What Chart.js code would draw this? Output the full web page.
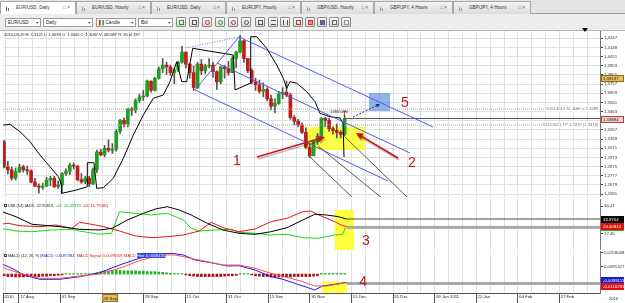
<!DOCTYPE html>
<html><head><meta charset="utf-8">
<script src="https://cdn.jsdelivr.net/npm/chart.js@4.4.1/dist/chart.umd.min.js"></script>
<style>
*{box-sizing:border-box}
body{margin:0;width:625px;height:303px;overflow:hidden;position:relative;background:#fff;font-family:'Liberation Sans',Arial,sans-serif;color:#222}
.abs{position:absolute}
#tabs{left:0;top:0;width:625px;height:14px;background:#e4e4e4;border-bottom:1px solid #a0a0a0}
.tab{position:absolute;top:1px;height:13px;border:1px solid #a8a8a8;border-bottom:none;background:linear-gradient(#f4f4f4,#dcdcdc);font-size:4.6px;line-height:12px;white-space:nowrap;color:#333}
.tab.on{background:#fff;height:14px}
.tab .ic{position:absolute;left:5px;top:4px;width:4px;height:5px}
.tab .ic b{position:absolute;bottom:0;width:1px}
.tab .tt{position:absolute;left:15px}
.tab .tx{position:absolute;right:5px;color:#666}
#tb{left:0;top:14px;width:625px;height:17px;background:#ededed;border-bottom:1px solid #b4b4b4}
.dd{position:absolute;top:4px;height:9px;border:1px solid #9c9c9c;background:#fff;font-size:4.6px;line-height:8px;padding-left:2px;white-space:nowrap}
.dd .ar{position:absolute;right:1px;top:0;font-size:3.5px;color:#333}
.bt{position:absolute;top:3px;width:10px;height:10px;border:1px solid #8c8c8c;border-radius:1px;background:linear-gradient(#fbfbfb,#d8d8d8)}
.bt i{position:absolute;left:2px;top:2px;width:5px;height:5px;border:1px solid #555}
.hd{position:absolute;font-size:4px;white-space:nowrap;line-height:5px}
.cb{display:inline-block;width:3px;height:3px;border:0.5px solid #444;margin-right:1px}
canvas{position:absolute;left:0}
</style></head>
<body>
<div id="tabs" class="abs">
  <div class="tab on" style="left:0;width:76px"><span class="ic"><b style="left:0;height:4px;background:#c22"></b><b style="left:2px;height:3px;background:#2a2"></b></span><span class="tt">EUR/USD, Daily</span><span class="tx">□ ×</span></div>
  <div class="tab" style="left:76px;width:75px"><span class="ic"><b style="left:0;height:4px;background:#999"></b><b style="left:2px;height:3px;background:#999"></b></span><span class="tt">EUR/USD, Hourly</span><span class="tx">□ ×</span></div>
  <div class="tab" style="left:151px;width:75px"><span class="ic"><b style="left:0;height:4px;background:#999"></b><b style="left:2px;height:3px;background:#999"></b></span><span class="tt">EUR/USD, Daily</span><span class="tx">□ ×</span></div>
  <div class="tab" style="left:226px;width:75px"><span class="ic"><b style="left:0;height:4px;background:#999"></b><b style="left:2px;height:3px;background:#999"></b></span><span class="tt">EUR/JPY, Hourly</span><span class="tx">□ ×</span></div>
  <div class="tab" style="left:301px;width:73px"><span class="ic"><b style="left:0;height:4px;background:#999"></b><b style="left:2px;height:3px;background:#999"></b></span><span class="tt">GBP/USD, Hourly</span><span class="tx">□ ×</span></div>
  <div class="tab" style="left:374px;width:79px"><span class="ic"><b style="left:0;height:4px;background:#999"></b><b style="left:2px;height:3px;background:#999"></b></span><span class="tt">GBP/JPY, 4 Hours</span><span class="tx">□ ×</span></div>
  <div class="tab" style="left:453px;width:78px"><span class="ic"><b style="left:0;height:4px;background:#999"></b><b style="left:2px;height:3px;background:#999"></b></span><span class="tt">GBP/JPY, 4 Hours</span><span class="tx">□ ×</span></div>
</div>
<div id="tb" class="abs">
  <div class="dd" style="left:5px;width:36px">EUR/USD<span class="ar">▼</span></div>
  <div class="dd" style="left:43px;width:50px">Daily<span class="ar">▼</span></div>
  <div class="dd" style="left:96px;width:40px"><span style="color:#c22">▌</span><span style="color:#2a2">▌</span>Candle<span class="ar">▼</span></div>
  <div class="dd" style="left:138px;width:35px">Bid<span class="ar">▼</span></div>
  <div class="bt" style="left:176px"><i style="border-color:#393"></i></div>
  <div class="bt" style="left:189px"><i></i></div>
  <div class="bt" style="left:202px"><i style="border-radius:3px;border-color:#c33"></i></div>
  <div class="bt" style="left:215px"><i style="border-radius:3px;border-color:#393"></i></div>
  <div class="bt" style="left:228px"><i style="border-radius:3px;border-color:#c33"></i></div>
  <div class="bt" style="left:241px"><i style="border-radius:3px"></i></div>
  <div class="bt" style="left:255px"><i></i></div>
  <div class="bt" style="left:268px"><i style="border-width:1px 0"></i></div>
  <div class="bt" style="left:280px"><i style="border-width:0 1px"></i></div>
  <div class="bt" style="left:293px"><i style="border-color:#c33"></i></div>
  <div class="bt" style="left:305px"><i style="border-color:#c33;background:#e88"></i></div>
  <div class="bt" style="left:317px"><i style="border-color:#36c;background:#c44"></i></div>
  <div class="bt" style="left:329px"><i style="border-color:#666"></i></div>
  <div class="bt" style="left:341px"><i style="border-color:#999"></i></div>
</div>
<div class="abs" style="left:582px;top:28px;width:0;height:0;border-left:3px solid transparent;border-right:3px solid transparent;border-top:4px solid #000;z-index:3"></div>

<canvas id="cMain" width="625" height="166" style="top:31px"></canvas>
<canvas id="cDmi" width="625" height="52" style="top:198px"></canvas>
<canvas id="cMacd" width="625" height="53" style="top:250px"></canvas>

<div class="hd" style="left:4px;top:32px;z-index:2">2010-09-29 H: 1.3121 L: 1.3039 O: 1.3040 C: 1.3082 V: 465487 R: 35 of 187</div>
<div class="hd" style="left:4px;top:203px;z-index:2"><span class="cb"></span>DMI (14) (ADX: 22.95819, <span style="color:#1a1">+DI: 20.45379,</span> <span style="color:#d11">-DI: 14.79082)</span></div>
<div class="hd" style="left:4px;top:253px;z-index:2"><span class="cb"></span>MACD (12, 26, 9) (<span style="color:#22d">MACD: 0.0087384,</span> <span style="color:#d11">MACD Signal: 0.0078949,</span> <span style="color:#d11">MACD </span><span style="background:#3344dd;color:#fff">Hist: 0.0008435</span>)</div>
<div class="hd" style="left:609px;top:296px;z-index:2">2010</div>

<script>
// ---------------- DATA ----------------
// Daily EUR/USD candles, 11 Aug 2010 .. 13 Dec 2010 (index 0..88)
const opens  = [1.3140,1.2870,1.2840,1.2750,1.2820,1.2870,1.2840,1.2830,1.2710,1.2665,1.2655,1.2665,1.2730,1.2750,1.2660,1.2680,1.2800,1.2825,1.2890,1.2880,1.2735,1.2710,1.2750,1.2690,1.2840,1.3030,1.3000,1.3070,1.3050,1.3060,1.3250,1.3370,1.3330,1.3490,1.3480,1.3580,1.3620,1.3630,1.3790,1.3690,1.3820,1.3920,1.3960,1.3940,1.3880,1.3910,1.3990,1.4100,1.3970,1.3880,1.3720,1.3970,1.3900,1.3950,1.3960,1.3890,1.3780,1.3940,1.3920,1.3880,1.4030,1.4100,1.4220,1.4030,1.3900,1.3780,1.3750,1.3680,1.3700,1.3600,1.3520,1.3550,1.3650,1.3670,1.3640,1.3400,1.3360,1.3320,1.3240,1.3080,1.2990,1.3140,1.3200,1.3390,1.3370,1.3280,1.3260,1.3240,1.3220];
const highs  = [1.3155,1.2930,1.2870,1.2860,1.2900,1.2890,1.2880,1.2840,1.2750,1.2690,1.2700,1.2760,1.2770,1.2770,1.2720,1.2810,1.2850,1.2910,1.2915,1.2885,1.2800,1.2770,1.2770,1.2860,1.3050,1.3060,1.3100,1.3160,1.3120,1.3270,1.3380,1.3395,1.3500,1.3510,1.3600,1.3650,1.3690,1.3800,1.3790,1.3830,1.3940,1.4030,1.3990,1.3960,1.3930,1.4000,1.4160,1.4100,1.3980,1.3950,1.3990,1.4020,1.3970,1.4030,1.3990,1.3900,1.3950,1.3960,1.4000,1.4050,1.4110,1.4280,1.4230,1.4030,1.3920,1.3820,1.3800,1.3770,1.3720,1.3640,1.3600,1.3680,1.3720,1.3790,1.3660,1.3420,1.3380,1.3340,1.3290,1.3120,1.3150,1.3230,1.3400,1.3400,1.3390,1.3300,1.3330,1.3260,1.3426];
const lows   = [1.2860,1.2795,1.2730,1.2730,1.2810,1.2815,1.2790,1.2700,1.2660,1.2590,1.2630,1.2660,1.2670,1.2650,1.2640,1.2670,1.2780,1.2790,1.2850,1.2720,1.2695,1.2690,1.2660,1.2680,1.2810,1.2990,1.2980,1.3030,1.3015,1.3040,1.3230,1.3300,1.3300,1.3420,1.3450,1.3560,1.3580,1.3620,1.3670,1.3680,1.3810,1.3880,1.3860,1.3850,1.3760,1.3890,1.3980,1.3930,1.3820,1.3690,1.3710,1.3860,1.3870,1.3930,1.3830,1.3700,1.3760,1.3820,1.3850,1.3880,1.3930,1.4090,1.3990,1.3880,1.3760,1.3690,1.3660,1.3620,1.3580,1.3480,1.3450,1.3540,1.3600,1.3620,1.3380,1.3320,1.3300,1.3230,1.3070,1.2970,1.2990,1.3110,1.3170,1.3300,1.3250,1.3220,1.3180,1.3180,1.3200];
const closes = [1.2870,1.2840,1.2750,1.2820,1.2870,1.2840,1.2830,1.2710,1.2665,1.2655,1.2665,1.2730,1.2750,1.2660,1.2680,1.2800,1.2825,1.2890,1.2880,1.2735,1.2710,1.2750,1.2690,1.2840,1.3030,1.3000,1.3070,1.3050,1.3060,1.3250,1.3370,1.3330,1.3490,1.3480,1.3580,1.3620,1.3630,1.3790,1.3690,1.3820,1.3920,1.3960,1.3940,1.3880,1.3910,1.3990,1.4100,1.3970,1.3880,1.3720,1.3970,1.3900,1.3950,1.3960,1.3890,1.3780,1.3940,1.3920,1.3880,1.4030,1.4100,1.4220,1.4030,1.3900,1.3780,1.3750,1.3680,1.3700,1.3600,1.3520,1.3550,1.3650,1.3670,1.3640,1.3400,1.3360,1.3320,1.3240,1.3080,1.2990,1.3140,1.3200,1.3390,1.3370,1.3280,1.3260,1.3240,1.3220,1.3388];

// black indicator curve on the price pane: [index, price]
const indicatorLine = [[-0.18,1.3319],[1.55,1.3327],[4.13,1.3248],[6.72,1.3141],[9.30,1.2998],[11.89,1.2873],[14.03,1.2766],[14.91,1.2677],[14.91,1.2588],[18.79,1.2624],[21.52,1.2659],[21.53,1.2916],[23.26,1.2916],[23.95,1.2642],[25.66,1.2648],[28.24,1.2749],[30.83,1.2963],[33.41,1.3212],[36.0,1.3426],[38.58,1.3605],[41.16,1.3640],[42.89,1.3783],[43.75,1.3890],[44.63,1.3997],[45.92,1.3783],[47.21,1.3783],[48.76,1.4140],[59.25,1.4068],[59.69,1.3694],[63.57,1.3765],[63.75,1.4264],[65.30,1.4264],[67.88,1.4140],[70.47,1.3961],[72.17,1.3819],[73.05,1.3712],[73.9,1.3783],[75.63,1.3766],[78.22,1.3676],[80.36,1.3569],[81.65,1.3444],[84.24,1.3408],[86.82,1.3394],[87.6,1.3341],[87.86,1.2977]];

// drawings on the price pane: [index, price] endpoints
const pitchforkTop    = [[60.72,1.4261],[110.85,1.3298]];
const pitchforkMedian = [[55.04,1.3983],[104.90,1.3020]];
const pitchforkBottom = [[49.35,1.3694],[99.22,1.2720]];
const pitchforkHandle = [[49.35,1.3694],[60.72,1.4261]];
const pitchforkPivot  = [[46.77,1.4143],[60.72,1.4261]];
const fanLine1 = [[79.07,1.2977],[90.44,1.2528]];
const fanLine2 = [[81.14,1.3095],[97.93,1.2528]];
const fanLine3 = [[88.11,1.3191],[104.65,1.2528]];
const arrow1 = [[65.37,1.2977],[82.95,1.3191]];
const arrow2 = [[101.81,1.2966],[90.96,1.3234]];
const arrow5 = [[90.18,1.3405],[97.16,1.3544]];
const entryZone  = [[78.04,1.3052],[93.28,1.3298]];
const targetZone = [[94.32,1.3469],[99.74,1.3662]];
const slPrice = 1.3489, tpPrice = 1.3319, bidPrice = 1.33884, markPrice = 1.38197;
const slText = '61513610 SL ASK \u2264 1.3489';
const tpText = '61513611 TP 1.3319 (1.3318)';
const orderTag = '13805180';
const mark1 = [60.2,1.2934], mark2 = [105.4,1.2913], mark5 = [103.6,1.3555];

// DMI(14)
const adxLine     = [[-1.03,41.14],[3.10,35.14],[7.24,27.14],[14.47,24.62],[19.64,21.88],[24.81,21.14],[27.91,22.93],[31.91,31.67],[36.02,38.72],[39.12,43.25],[42.20,45.67],[45.30,42.20],[48.37,36.93],[52.51,28.20],[56.61,21.14],[60.72,17.67],[64.86,16.62],[68.99,19.35],[73.10,23.57],[77.21,31.67],[80.28,37.67],[83.38,36.93],[86.46,35.14],[88.53,32.72]];
const minusDiLine = [[-1.03,27.14],[1.03,28.2],[4.11,25.67],[9.25,24.62],[13.39,26.41],[17.49,22.93],[19.56,29.25],[23.67,26.41],[25.74,24.62],[29.84,20.09],[33.98,14.83],[38.09,13.04],[42.20,14.09],[46.33,15.88],[50.44,20.09],[53.54,29.25],[56.61,23.57],[60.72,19.35],[64.86,22.2],[68.99,29.88],[73.10,33.46],[77.21,40.41],[79.28,41.14],[81.32,36.93],[85.45,29.88],[87.49,25.67],[88.53,24.83]];
const plusDiLine  = [[-1.03,22.93],[3.07,20.09],[7.21,19.35],[12.35,21.14],[17.49,21.88],[19.56,20.09],[24.70,16.62],[27.80,17.67],[29.84,40.41],[33.98,38.72],[38.09,36.93],[42.20,38.72],[46.33,31.67],[48.37,22.93],[50.44,20.09],[54.55,21.14],[58.68,21.88],[60.72,18.72],[64.86,17.67],[68.99,15.88],[73.10,16.62],[77.21,13.04],[81.32,12.41],[85.45,15.88],[87.49,16.62],[88.2,23.57]];
const dmiZone = [[85.5,0],[90.4,42.2]];
const adxNow = 32.72, diNow = 23.9, dmiBoxValues = [32.72, 24.83];
const dmiBoxTexts = ['33.9704','24.00813'];
const mark3 = [93.5,9.6];

// MACD(12,26,9)
const macdLine   = [[-1.03,0.01305],[2.07,0.00701],[5.14,-0.00109],[9.25,-0.00628],[14.42,-0.00628],[19.56,-0.00314],[24.70,0.00169],[29.84,0.01099],[34.99,0.01909],[40.16,0.02428],[43.23,0.02513],[46.33,0.02308],[49.41,0.01704],[53.54,0.01377],[57.65,0.00979],[60.72,0.01015],[64.86,0.00495],[68.99,-0.00314],[72.07,-0.00628],[75.12,-0.01112],[78.24,-0.01595],[80.28,-0.01921],[82.35,-0.01438],[85.45,-0.01232],[88.53,-0.00991]];
const signalLine = [[-1.03,0.00894],[4.11,0.00097],[9.25,-0.00507],[14.42,-0.00507],[19.56,-0.0023],[24.70,0.00012],[29.84,0.00701],[34.99,0.01619],[40.16,0.02308],[44.26,0.02308],[48.37,0.01909],[52.51,0.01498],[56.61,0.01099],[60.72,0.01099],[64.86,0.00701],[68.99,0.00097],[73.10,-0.00387],[77.21,-0.00918],[80.28,-0.01438],[83.38,-0.01438],[86.46,-0.01196],[88.53,-0.01039]];
const macdHist = [-0.002,-0.003,-0.003,-0.0035,-0.0035,-0.0035,-0.003,-0.003,-0.003,-0.003,-0.0025,-0.0025,-0.002,-0.002,-0.0015,-0.001,
  0.0006,0.0006,0.0006,0.0006,0.0006,0.0006,0.0006,0.0006,
  0.002,0.003,0.004,0.004,0.0045,0.0045,0.0045,0.004,0.004,0.004,0.004,0.0035,0.0035,0.003,0.003,0.003,0.0025,0.002,0.0015,0.001,
  0.0006,0.0006,0.0006,
  -0.001,-0.002,-0.0025,-0.003,-0.003,-0.003,-0.003,-0.003,-0.003,-0.003,-0.0025,-0.002,-0.002,-0.0015,
  0.0006,0.0006,0.0006,
  -0.001,-0.002,-0.0025,-0.003,-0.003,-0.0035,-0.0035,-0.0035,-0.0035,-0.0035,-0.0035,-0.003,-0.003,-0.003,-0.003,-0.003,-0.0025,-0.002,
  0.0008,0.0008,0.0008,0.0008,0.0008,0.0008,0.0008];
const macdZone = [[82.2,-0.0225],[88.6,-0.0092]];
const macdNow = -0.0113, macdBoxValues = [-0.00713,-0.01377];
const macdBoxTexts = ['-0.0099113','-0.0116291'];
const mark4 = [92.8,-0.0095];

// tick labels
const priceTickLabels = ['1.2581','1.2679','1.2777','1.2875','1.2973','1.3071','1.3169','1.3267','1.3365','1.3463','1.3561','1.3659','1.3757','1.3855','1.3953','1.4051','1.4148','1.4247'];
const dmiTickLabels = ['46.41','17.46'];
const macdTickLabels = ['0.0258048','0.0091327'];
const yearLabel = '2010';
const dateLabels = ['17 Aug','01 Sep','15 Sep','28 Sep','15 Oct','31 Oct','15 Nov','30 Nov','15 Dec','31 Dec','09 Jan 2011','22 Jan','04 Feb','17 Feb'];
const crosshairDate = '28 Sep';

// ---------------- LAYOUT / HELPERS ----------------
Chart.defaults.font.family = "'Liberation Sans', Arial, sans-serif";
Chart.defaults.animation = false;
const FONT = "'Liberation Sans', Arial, sans-serif";
const X_MIN = -0.258, X_MAX = 154.0;
const GRID0 = 0.284, GRID_STEP = 3.581, N_GRID = 43;
const gridValues = Array.from({length:N_GRID},(_,k)=>GRID0+GRID_STEP*k);
const isLabelTick = k => k % 3 === 1;
const pts = a => a.map(p=>({x:p[0],y:p[1]}));
const GRID_COLOR = '#e0e0e0';

function gridX(){
  return {type:'linear',bounds:'data',min:X_MIN,max:X_MAX,offset:false,
    grid:{offset:false,color:GRID_COLOR,drawTicks:false},
    border:{display:true,color:'#9a9a9a'},
    ticks:{display:false},
    afterBuildTicks:s=>{s.ticks=gridValues.map(v=>({value:v}));},
    afterFit:s=>{s.height=0;s.paddingLeft=0;s.paddingRight=0;}};
}
function yAxis(min,max,labels,onArea){
  const vals = labels.map(Number);
  return {position:'right',bounds:'data',min,max,
    grid:{drawOnChartArea:onArea,color:GRID_COLOR,tickLength:3,tickColor:'#444'},
    border:{display:true,color:'#777'},
    ticks:{color:'#333',font:{size:4.3},padding:1,autoSkip:false,
      callback:v=>{const i=vals.findIndex(t=>Math.abs(t-v)<1e-9);return i>=0?labels[i]:'';}},
    afterBuildTicks:s=>{s.ticks=vals.map(v=>({value:v}));},
    afterFit:s=>{s.width=25;s.paddingTop=0;s.paddingBottom=0;}};
}
function lineDs(data,color,width,dash,order){
  return {type:'line',data:pts(data),borderColor:color,borderWidth:width,borderDash:dash||[],pointRadius:0,tension:0,fill:false,order:order||0};
}

const deco = {
  id:'deco',
  beforeDatasetsDraw(chart,args,o){
    const {ctx,chartArea:ca,scales:{x,y}}=chart;
    ctx.save();ctx.beginPath();ctx.rect(ca.left,ca.top,ca.width,ca.height);ctx.clip();
    for(const r of (o.rects||[])){
      const x0=x.getPixelForValue(r.box[0][0]),x1=x.getPixelForValue(r.box[1][0]);
      const y0=y.getPixelForValue(r.box[0][1]),y1=y.getPixelForValue(r.box[1][1]);
      ctx.fillStyle=r.fill;ctx.fillRect(Math.min(x0,x1),Math.min(y0,y1),Math.abs(x1-x0),Math.abs(y1-y0));
    }
    for(const b of (o.bands||[])){
      const py=y.getPixelForValue(b.value), px=x.getPixelForValue(b.from);
      ctx.fillStyle=b.color;ctx.fillRect(px,py-b.h/2,ca.right-px,b.h);
    }
    ctx.restore();
  },
  afterDatasetsDraw(chart,args,o){
    const {ctx,chartArea:ca,scales:{x,y}}=chart;
    ctx.save();ctx.beginPath();ctx.rect(ca.left,ca.top,ca.width,ca.height);ctx.clip();
    for(const a of (o.arrows||[])){
      const x0=x.getPixelForValue(a.line[0][0]),y0=y.getPixelForValue(a.line[0][1]);
      const x1=x.getPixelForValue(a.line[1][0]),y1=y.getPixelForValue(a.line[1][1]);
      const ang=Math.atan2(y1-y0,x1-x0),L=a.head,W=a.head*0.5;
      const draw=(dx,dy,col)=>{
        const ex=x1-Math.cos(ang)*L*0.8, ey=y1-Math.sin(ang)*L*0.8;
        ctx.strokeStyle=col;ctx.fillStyle=col;ctx.lineWidth=a.width;ctx.setLineDash(a.dash||[]);
        ctx.beginPath();ctx.moveTo(x0+dx,y0+dy);ctx.lineTo(ex+dx,ey+dy);ctx.stroke();
        ctx.setLineDash([]);
        ctx.beginPath();ctx.moveTo(x1+dx,y1+dy);
        ctx.lineTo(x1-Math.cos(ang)*L+Math.sin(ang)*W+dx,y1-Math.sin(ang)*L-Math.cos(ang)*W+dy);
        ctx.lineTo(x1-Math.cos(ang)*L-Math.sin(ang)*W+dx,y1-Math.sin(ang)*L+Math.cos(ang)*W+dy);
        ctx.closePath();ctx.fill();
      };
      if(a.shadow) draw(1,2,'rgba(0,0,0,0.25)');
      draw(0,0,a.color);
    }
    for(const t of (o.texts||[])){
      const px=x.getPixelForValue(t.at[0]),py=y.getPixelForValue(t.at[1]);
      ctx.font=t.font;ctx.textAlign=t.align||'center';ctx.textBaseline='middle';
      if(t.bg){const w=ctx.measureText(t.text).width;const lx=t.align==='right'?px-w:(t.align==='left'?px:px-w/2);ctx.fillStyle=t.bg;ctx.fillRect(lx-1,py-2.5,w+2,5);}
      ctx.fillStyle=t.color;ctx.fillText(t.text,px,py);
    }
    ctx.restore();
  },
  afterDraw(chart,args,o){
    const {ctx,chartArea:ca,scales:{x,y}}=chart;
    for(const b of (o.boxes||[])){
      const py=Math.round(y.getPixelForValue(b.value));
      const w=chart.width-ca.right-2;
      ctx.fillStyle=b.bg;ctx.fillRect(ca.right+1,py-3,w,7);
      if(b.border){ctx.strokeStyle=b.border;ctx.lineWidth=1;ctx.strokeRect(ca.right+1.5,py-2.5,w-1,6);}
      if(b.under){ctx.fillStyle=b.under;ctx.fillRect(ca.right+1,py+4,w,1);}
      ctx.fillStyle=b.fg;ctx.font='4.3px '+FONT;ctx.textAlign='left';ctx.textBaseline='middle';
      ctx.fillText(b.text,ca.right+3,py+0.5);
    }
    for(const h of (o.xHighlights||[])){
      const px=x.getPixelForValue(h.value);
      ctx.fillStyle='#e9b955';ctx.fillRect(px,ca.bottom+1,16,8);
      ctx.strokeStyle='#9a7020';ctx.lineWidth=1;ctx.strokeRect(px+0.5,ca.bottom+1.5,15,7);
      ctx.fillStyle='#222';ctx.font='4.3px '+FONT;ctx.textAlign='left';ctx.textBaseline='middle';
      ctx.fillText(h.text,px+1.5,ca.bottom+5.5);
    }
  }
};

const base = {responsive:false,devicePixelRatio:1,animation:false,events:[],
  plugins:{legend:{display:false},tooltip:{enabled:false}}};

// ---------------- PRICE PANE ----------------
const wickData = opens.map((o,i)=>({x:i,y:[lows[i],highs[i]]}));
const bodyData = opens.map((o,i)=>({x:i,y:[o,closes[i]===o?o+0.00006:closes[i]]}));
const bodyColors = opens.map((o,i)=>closes[i]>=o?'#1f9e1f':'#c41a1a');

new Chart(document.getElementById('cMain'),{
  type:'bar',
  data:{datasets:[
    {label:'wick',data:wickData,backgroundColor:'#555',barThickness:1,grouped:false,order:3},
    {label:'body',data:bodyData,backgroundColor:bodyColors,barThickness:3,grouped:false,order:2},
    lineDs([[X_MIN,slPrice],[X_MAX,slPrice]],'#a8a8a8',1,[1,1],1),
    lineDs([[X_MIN,tpPrice],[X_MAX,tpPrice]],'#a8a8a8',1,[1,1],1),
    lineDs([[88,bidPrice],[X_MAX,bidPrice]],'#555',1,null,1),
    lineDs(pitchforkTop,'#4e5ee6',1),
    lineDs(pitchforkMedian,'#4e5ee6',1),
    lineDs(pitchforkBottom,'#4e5ee6',1),
    lineDs(pitchforkHandle,'#4e5ee6',1),
    lineDs(pitchforkPivot,'#6a78ee',1,[1,1.5]),
    lineDs(fanLine1,'#333',0.8),
    lineDs(fanLine2,'#333',0.8),
    lineDs(fanLine3,'#333',0.8),
    lineDs(indicatorLine,'#000',1)
  ]},
  options:{...base,
    layout:{padding:{left:3,top:0,right:0,bottom:0}},
    scales:{x:gridX(),y:yAxis(1.25489,1.43251,priceTickLabels,true)},
    plugins:{...base.plugins,deco:{
      rects:[{box:entryZone,fill:'rgba(255,255,40,0.85)'},{box:targetZone,fill:'rgba(70,130,220,0.6)'}],
      arrows:[
        {line:arrow1,color:'#cc1515',width:1.6,head:7,shadow:true},
        {line:arrow2,color:'#cc1515',width:1.6,head:7,shadow:true},
        {line:arrow5,color:'#1a2fa8',width:1,head:4,dash:[2,1.5]}
      ],
      texts:[
        {text:'1',at:mark1,color:'#c81414',font:'14px '+FONT},
        {text:'2',at:mark2,color:'#c81414',font:'14px '+FONT},
        {text:'5',at:mark5,color:'#c81414',font:'14px '+FONT},
        {text:slText,at:[X_MAX-0.4,slPrice],color:'#777',font:'4.2px '+FONT,align:'right',bg:'#fff'},
        {text:tpText,at:[X_MAX-0.4,tpPrice],color:'#777',font:'4.2px '+FONT,align:'right',bg:'#fff'},
        {text:orderTag,at:[86.6,1.3462],color:'#333',font:'4px '+FONT},
        {text:'T',at:[88,1.3438],color:'#d01010',font:'bold 5px '+FONT}
      ],
      boxes:[
        {value:markPrice,text:'1.38197',bg:'#e6bd5c',fg:'#222',border:'#8a6a20'},
        {value:bidPrice,text:'1.33884',bg:'#f6d0c8',fg:'#222',border:'#b04040'}
      ]
    }}
  },
  plugins:[deco]
});

// ---------------- DMI PANE ----------------
new Chart(document.getElementById('cDmi'),{
  type:'line',
  data:{datasets:[
    lineDs([[88.5,adxNow],[X_MAX,adxNow]],'#444',1),
    lineDs(adxLine,'#000',1),
    lineDs(minusDiLine,'#ee1111',1),
    lineDs(plusDiLine,'#11dd11',1)
  ]},
  options:{...base,
    layout:{padding:{left:3,top:1,right:0,bottom:0}},
    scales:{x:gridX(),y:yAxis(0.09,53.78,dmiTickLabels,false)},
    plugins:{...base.plugins,deco:{
      rects:[{box:dmiZone,fill:'rgba(255,255,40,0.9)'}],
      bands:[{value:diNow,from:88.5,h:3,color:'#a9a9a9'}],
      texts:[{text:'3',at:mark3,color:'#c81414',font:'14px '+FONT}],
      boxes:[
        {value:dmiBoxValues[0],text:dmiBoxTexts[0],bg:'#000',fg:'#fff'},
        {value:dmiBoxValues[1],text:dmiBoxTexts[1],bg:'#e01010',fg:'#fff',under:'#10c010'}
      ]
    }}
  },
  plugins:[deco]
});

// ---------------- MACD PANE ----------------
const macdX = {type:'linear',bounds:'data',min:X_MIN,max:X_MAX,offset:false,
  grid:{offset:false,color:GRID_COLOR,drawTicks:true,tickLength:10,tickWidth:1,
    tickColor:c=>(c.index===0||(c.index>0&&isLabelTick(c.index-1)))?'#555':'rgba(0,0,0,0)'},
  border:{display:true,color:'#555'},
  ticks:{autoSkip:false,maxRotation:0,minRotation:0,align:'start',padding:-9,color:'#222',font:{size:4.3},
    callback:(v,i)=>i===0?' '+yearLabel:(isLabelTick(i-1)?' '+dateLabels[(i-2)/3]:'')},
  afterBuildTicks:s=>{s.ticks=[{value:X_MIN},...gridValues.map(v=>({value:v}))];},
  afterFit:s=>{s.height=10;s.paddingLeft=0;s.paddingRight=0;}};

new Chart(document.getElementById('cMacd'),{
  type:'bar',
  data:{datasets:[
    {label:'hist',data:macdHist.map((v,i)=>({x:i,y:v})),backgroundColor:macdHist.map(v=>v>=0?'#21b021':'#a81010'),barThickness:2,grouped:false,order:3},
    lineDs(signalLine,'#ff5050',1),
    lineDs(macdLine,'#1a1aee',1)
  ]},
  options:{...base,
    layout:{padding:{left:3,top:1,right:0,bottom:0}},
    scales:{x:macdX,y:yAxis(-0.02283,0.02791,macdTickLabels,false)},
    plugins:{...base.plugins,deco:{
      rects:[{box:macdZone,fill:'rgba(255,255,40,0.9)'}],
      bands:[{value:macdNow,from:88.5,h:3,color:'#a9a9a9'}],
      texts:[{text:'4',at:mark4,color:'#c81414',font:'14px '+FONT}],
      boxes:[
        {value:macdBoxValues[0],text:macdBoxTexts[0],bg:'#1a1ad0',fg:'#fff'},
        {value:macdBoxValues[1],text:macdBoxTexts[1],bg:'#e01010',fg:'#fff'}
      ],
      xHighlights:[{value:gridValues[7],text:crosshairDate}]
    }}
  },
  plugins:[deco]
});
</script>
</body></html>
